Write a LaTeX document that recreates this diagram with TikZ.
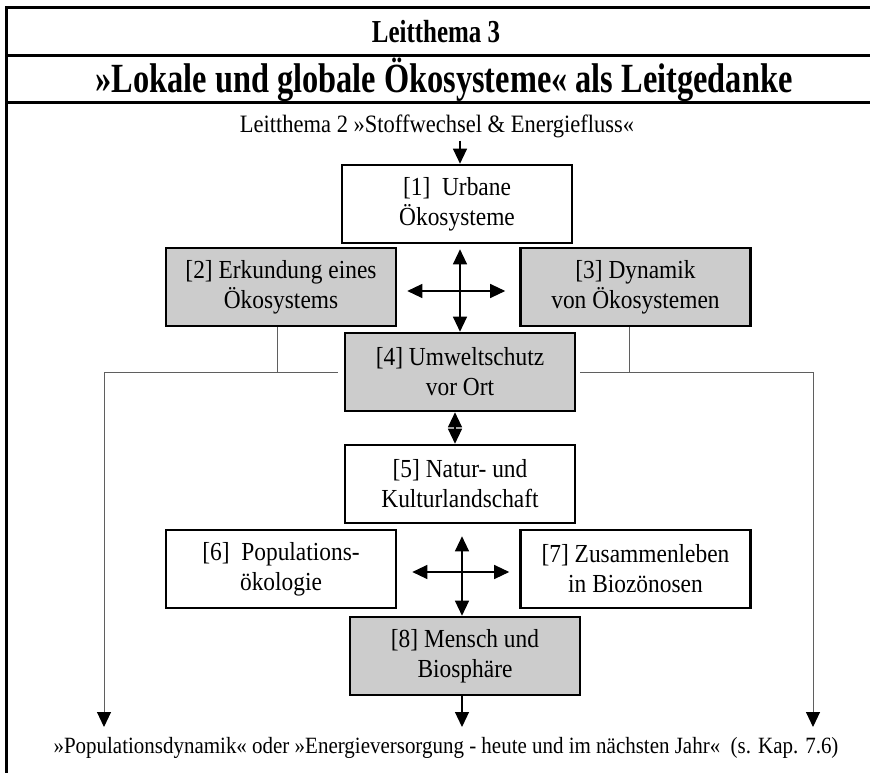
\documentclass[tikz,border=0pt]{standalone}
\usepackage{fontspec}
\setmainfont{Liberation Serif}
\newfontfamily\headfont[FakeStretch=0.78]{Liberation Serif}
\newfontfamily\bodyfont[FakeStretch=0.9]{Liberation Serif}
\usetikzlibrary{arrows.meta,calc}
\definecolor{boxgray}{RGB}{204,204,204}
\definecolor{linegray}{RGB}{95,95,95}
\begin{document}
\begin{tikzpicture}[x=1pt,y=-1pt,
  topic/.style={draw=black, line width=2.6pt, minimum width=230pt, minimum height=78pt,
    inner sep=0pt, align=center, font=\bodyfont\fontsize{26}{30}\selectfont},
  graybox/.style={topic, fill=boxgray},
  whitebox/.style={topic, fill=white},
  tip/.tip={Triangle[width=14pt,length=15pt,black]},
  arr/.style={line width=1.2pt, -tip},
  darr/.style={line width=1.2pt, tip-tip},
  feed/.style={draw=linegray, line width=1pt},
  frameline/.style={line width=3pt}
]
\useasboundingbox (0,0) rectangle (870,773);

% outer frame and header rules
\draw[frameline] (870,8) -- (6,8) -- (6,773);
\draw[frameline] (6,56) -- (870,56);
\draw[frameline] (6,103) -- (870,103);

% headings
\node[font=\headfont\bfseries\fontsize{32}{36}\selectfont] (lt3) at (436,32) {Leitthema 3};
\node[font=\headfont\bfseries\fontsize{41.5}{46}\selectfont] (title) at (444,80)
  {»Lokale und globale Ökosysteme« als Leitgedanke};
\node[font=\bodyfont\fontsize{25}{28}\selectfont, inner sep=1pt] (lt2) at (437,126)
  {Leitthema 2 »Stoffwechsel \& Energiefluss«};

% topic boxes
\node[whitebox] (b1) at (457,204) {[1]\ \ Urbane\\Ökosysteme};
\node[graybox]  (b2) at (281,287) {[2] Erkundung eines\\Ökosystems};
\node[graybox]  (b3) at (635.5,287) {[3] Dynamik\\von Ökosystemen};
\node[graybox]  (b4) at (460,372) {[4] Umweltschutz\\vor Ort};
\node[whitebox] (b5) at (460,484) {[5] Natur- und\\Kulturlandschaft};
\node[whitebox] (b6) at (281,569) {[6]\ \ Populations-\\ökologie};
\node[whitebox] (b7) at (635.5,569) {[7] Zusammenleben\\in Biozönosen};
\node[graybox]  (b8) at (465,656) {[8] Mensch und\\Biosphäre};

% follow-up topics
\node[font=\bodyfont\fontsize{23.3}{26}\selectfont] (out) at (446,748)
  {»Populationsdynamik« oder »Energieversorgung - heute und im nächsten Jahr«\ \ (s. Kap. 7.6)};

% helper coordinates for the vertical axes and arrow ends
\coordinate (ax1) at (460,0);
\coordinate (ax2) at (455,0);
\coordinate (ax3) at (462,0);
\coordinate (tipy) at (0,727);
\coordinate (jl) at (104,372);
\coordinate (jr) at (813,372);

% entry arrow
\draw[arr] ([yshift=-2pt]lt2.south -| ax1) -- (b1.north -| ax1);

% first cross
\draw[darr] ([yshift=-5pt]b1.south -| ax1) -- (b4.north -| ax1);
\draw[darr] ([xshift=10pt,yshift=-4pt]b2.east) -- ([xshift=-14pt,yshift=-4pt]b3.west);

% link 4 - 5
\draw[darr] (b4.south -| ax2) -- (b5.north -| ax2);

% second cross
\draw[darr] ([yshift=-12pt]b5.south -| ax3) -- (b8.north -| ax3);
\draw[darr] ([xshift=15pt,yshift=-3pt]b6.east) -- ([xshift=-10pt,yshift=-3pt]b7.west);

% exit arrow
\draw[arr] (b8.south -| ax3) -- (ax3 |- tipy);

% side branches
\coordinate (p2) at ($(b2.south west)!0.487!(b2.south east)$);
\coordinate (p3) at ($(b3.south west)!0.476!(b3.south east)$);
\draw[feed] (p2) -- (p2 |- jl);
\draw[feed] (p3) -- (p3 |- jr);
\draw[feed, -tip] ([xshift=-6pt]b4.west) -- (jl) -- (jl |- tipy);
\draw[feed, -tip] ([xshift=4pt]b4.east) -- (jr) -- (jr |- tipy);
\end{tikzpicture}
\end{document}
